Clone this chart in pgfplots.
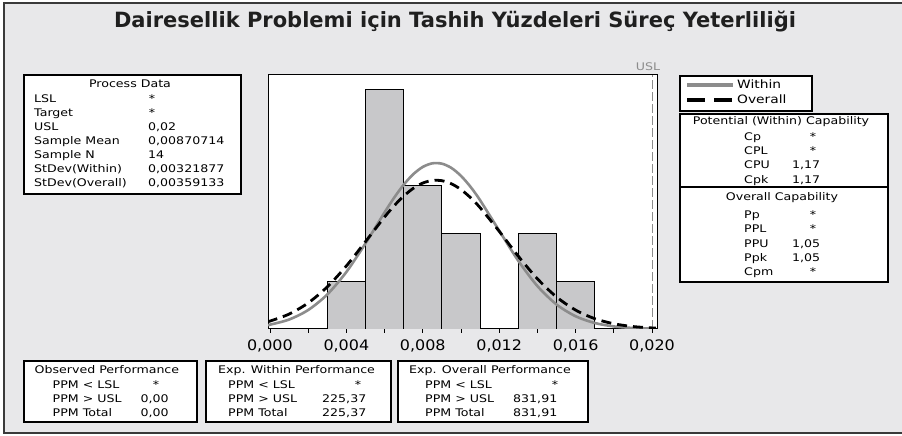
\documentclass[border=0pt]{standalone}
\usepackage{fontspec}
\setmainfont{DejaVu Sans}
\newfontfamily\widef[FakeStretch=1.2]{DejaVu Sans}
\newfontfamily\tickf[FakeStretch=1.1]{DejaVu Sans}
\usepackage{pgfplots}
\pgfplotsset{compat=1.18}
\definecolor{bgray}{HTML}{E8E8EA}
\definecolor{barfill}{HTML}{C8C8CA}
\definecolor{withinc}{HTML}{8C8C8C}
\definecolor{framec}{HTML}{3A3A3A}
\newcommand\bx{\widef\fontsize{10.5}{12.5}\selectfont}
% label at (x, row centre y), set on its baseline
\newcommand\lab[3]{\node[anchor=base west,font=\bx,inner sep=0pt] at (#1,#2+3.9) {#3};}
\newcommand\astr[2]{\node[font=\bx,inner sep=0pt] at (#1,#2) {*};}

\begin{document}
\begin{tikzpicture}
\useasboundingbox (0,0) rectangle (902pt,436pt);
\fill[white] (0,0) rectangle (902pt,436pt);
\begin{scope}[x=1pt,y=-1pt,yshift=436pt]
  \fill[bgray] (4,3) rectangle (902,433);
  \draw[framec, line width=1.5pt] (902,3) -- (4,3) -- (4,433) -- (902,433);
  % title
  \node[font=\fontsize{21}{25}\selectfont\bfseries, text=black!88] at (455,22)
    {Dairesellik Problemi için Tashih Yüzdeleri Süreç Yeterliliği};
  % process data
  \draw[black, line width=1.2pt, fill=white] (24,75) rectangle (241,194);
  \node[font=\bx] at (130,84) {Process Data};
  \lab{34}{99}{LSL}            \astr{152}{99}
  \lab{34}{113}{Target}        \astr{152}{113}
  \lab{34}{127}{USL}           \lab{148}{127}{0,02}
  \lab{34}{141}{Sample Mean}   \lab{148}{141}{0,00870714}
  \lab{34}{155}{Sample N}      \lab{148}{155}{14}
  \lab{34}{169}{StDev(Within)}  \lab{148}{169}{0,00321877}
  \lab{34}{183}{StDev(Overall)} \lab{148}{183}{0,00359133}
  % legend frame
  \draw[black, line width=1.2pt, fill=white] (680,76) rectangle (812,111);
  % capability
  \draw[black, line width=1.2pt, fill=white] (680,114) rectangle (888,282);
  \draw[black, line width=1.2pt] (680,187) -- (888,187);
  \node[font=\bx] at (781,122) {Potential (Within) Capability};
  \lab{744}{136.7}{Cp}  \astr{813}{136.7}
  \lab{744}{150.7}{CPL} \astr{813}{150.7}
  \lab{744}{165}{CPU}   \lab{792}{165}{1,17}
  \lab{744}{179.3}{Cpk} \lab{792}{179.3}{1,17}
  \node[font=\bx] at (782,197.7) {Overall Capability};
  \lab{744}{214.3}{Pp}  \astr{813}{214.3}
  \lab{744}{228.3}{PPL} \astr{813}{228.3}
  \lab{744}{243.3}{PPU} \lab{792}{243.3}{1,05}
  \lab{744}{257.3}{Ppk} \lab{792}{257.3}{1,05}
  \lab{744}{271.7}{Cpm} \astr{813}{271.7}
  % performance boxes
  \draw[black, line width=1.2pt, fill=white] (24,361) rectangle (197,422);
  \lab{34.5}{370}{Observed Performance}
  \lab{52.5}{385}{PPM < LSL}  \astr{156}{385}
  \lab{52.5}{399}{PPM > USL}  \lab{140.5}{399}{0,00}
  \lab{52.5}{413}{PPM Total}  \lab{140.5}{413}{0,00}
  \draw[black, line width=1.2pt, fill=white] (206,361) rectangle (391,422);
  \lab{218}{370}{Exp. Within Performance}
  \lab{228}{385}{PPM < LSL}  \astr{358}{385}
  \lab{228}{399}{PPM > USL}  \lab{322}{399}{225,37}
  \lab{228}{413}{PPM Total}  \lab{322}{413}{225,37}
  \draw[black, line width=1.2pt, fill=white] (398,361) rectangle (588,422);
  \lab{409}{370}{Exp. Overall Performance}
  \lab{425}{385}{PPM < LSL}  \astr{555}{385}
  \lab{425}{399}{PPM > USL}  \lab{513}{399}{831,91}
  \lab{425}{413}{PPM Total}  \lab{513}{413}{831,91}
  % USL label
  \node[font=\bx, text=withinc] at (648,67) {USL};
\end{scope}

\begin{axis}[
  at={(268pt,107pt)}, anchor=south west,
  scale only axis, width=389pt, height=254pt,
  xmin=-0.0001, xmax=0.02026, ymin=0, ymax=5.31,
  axis background/.style={fill=white},
  axis line style={black, line width=1pt},
  tick pos=left, tick align=outside,
  ytick=\empty,
  xtick={0,0.004,0.008,0.012,0.016,0.020},
  xticklabels={{0,000},{0,004},{0,008},{0,012},{0,016},{0,020}},
  minor xtick={0.002,0.006,0.010,0.014,0.018},
  scaled x ticks=false,
  major tick length=4pt, minor tick length=4pt,
  every tick/.style={black, line width=0.8pt},
  tick label style={font=\tickf\fontsize{14.5}{16}\selectfont},
  xticklabel style={yshift=-3pt},
  legend style={draw=none, fill=none, at={(axis description cs:1.072,0.99)},
    anchor=north west, inner sep=0pt, row sep=1pt,
    font=\widef\fontsize{11.5}{14}\selectfont, cells={anchor=west}},
  legend image code/.code={\draw[#1] (0pt,0pt) -- (46pt,0pt);},
]
\addplot[ybar, bar width=0.002, bar shift=0pt, fill=barfill, draw=black,
  line width=0.8pt, forget plot]
  coordinates {(0.004,1) (0.006,5) (0.008,3) (0.010,2) (0.014,2) (0.016,1)};
\addplot[withinc, line width=0.8pt, dash pattern=on 9pt off 3pt, forget plot]
  coordinates {(0.02,0) (0.02,5.31)};
\addplot[withinc, line width=2.6pt, smooth, no marks,
  legend image post style={line width=4pt}] coordinates {
  (-0.0001,0.0822) (0,0.0894) (0.001,0.1974) (0.002,0.3959) (0.003,0.7207)
  (0.004,1.1912) (0.005,1.7879) (0.006,2.4366) (0.0065,2.7434) (0.007,3.0151)
  (0.0075,3.2347) (0.008,3.3877) (0.0085,3.4632) (0.009,3.4561) (0.0095,3.3667)
  (0.010,3.2014) (0.0105,2.9717) (0.011,2.6926) (0.012,2.0565)
  (0.013,1.4260) (0.014,0.8979) (0.015,0.5133) (0.016,0.2665) (0.017,0.1256)
  (0.018,0.0537) (0.019,0.0209) (0.020,0.0074) (0.0202,0.0059)};
\addlegendentry{Within}
\addplot[black, line width=2.8pt, smooth, no marks, dash pattern=on 10pt off 6pt,
  legend image post style={line width=4pt, dash pattern=on 18pt off 9pt}] coordinates {
  (-0.0001,0.1538) (0,0.1645) (0.001,0.3111) (0.002,0.5438) (0.003,0.8799)
  (0.004,1.3176) (0.005,1.8258) (0.006,2.3413) (0.0065,2.5751) (0.007,2.7781)
  (0.0075,2.9396) (0.008,3.0507) (0.0085,3.1052) (0.009,3.1001) (0.0095,3.0355)
  (0.010,2.9152) (0.0105,2.7460) (0.011,2.5369) (0.012,2.0430)
  (0.013,1.5225) (0.014,1.0500) (0.015,0.6701) (0.016,0.3957) (0.017,0.2162)
  (0.018,0.1094) (0.019,0.0512) (0.020,0.0222) (0.0202,0.0186)};
\addlegendentry{Overall}
\end{axis}
\end{tikzpicture}
\end{document}
